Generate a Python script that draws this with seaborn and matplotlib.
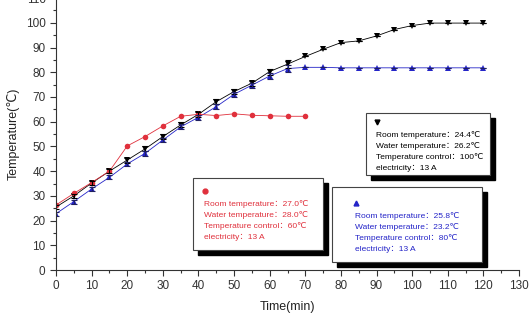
import pandas as pd
import seaborn as sns
import matplotlib.pyplot as plt
from matplotlib.patches import Rectangle
from matplotlib.ticker import MultipleLocator

# Heating curves
time_black = [0, 5, 10, 15, 20, 25, 30, 35, 40, 45, 50, 55, 60, 65, 70, 75, 80,
              85, 90, 95, 100, 105, 110, 115, 120]
temp_black = [25.5, 30.0, 35.2, 40.0, 44.5, 49.0, 54.0, 58.7, 63.0, 68.1, 72.2,
              75.6, 80.3, 83.3, 86.4, 89.3, 92.0, 92.7, 94.7, 97.3, 98.9, 99.9,
              99.9, 99.9, 99.9]
err_black = [0.8, 0.8, 0.8, 0.8, 1.0, 1.0, 1.0, 1.0, 1.0, 1.0, 1.0, 1.0, 1.2, 1.5,
             0, 0, 0, 0, 0, 0, 0, 0, 0, 0, 0]

time_blue = [0, 5, 10, 15, 20, 25, 30, 35, 40, 45, 50, 55, 60, 65, 70, 75, 80,
             85, 90, 95, 100, 105, 110, 115, 120]
temp_blue = [22.8, 27.7, 32.8, 37.5, 42.9, 47.2, 52.6, 57.9, 61.8, 66.1, 71.1,
             74.8, 78.5, 81.5, 82.0, 82.0, 81.8, 81.8, 81.8, 81.8, 81.8, 81.8,
             81.8, 81.8, 81.8]
err_blue = [0.8, 0.8, 0.8, 0.8, 1.0, 1.0, 1.0, 1.0, 1.0, 1.0, 1.0, 1.0, 1.2, 1.5,
            0, 0, 0, 0, 0, 0, 0, 0, 0, 0, 0]

time_red = [0, 5, 10, 15, 20, 25, 30, 35, 40, 45, 50, 55, 60, 65, 70]
temp_red = [26.3, 31.0, 35.4, 40.0, 50.2, 54.0, 58.3, 62.2, 63.0, 62.5, 63.2,
            62.6, 62.4, 62.2, 62.2]

legend_black = ["Room temperature：24.4℃", "Water temperature：26.2℃",
                "Temperature control：100℃", "electricity：13 A"]
legend_red = ["Room temperature：27.0℃", "Water temperature：28.0℃",
              "Temperature control：60℃", "electricity：13 A"]
legend_blue = ["Room temperature：25.8℃", "Water temperature：23.2℃",
               "Temperature control：80℃", "electricity：13 A"]

RED = "#e0303c"
BLUE = "#2424c8"
BLACK = "#000000"

df = pd.concat([
    pd.DataFrame({"Time": time_black, "Temp": temp_black, "Run": "100"}),
    pd.DataFrame({"Time": time_blue, "Temp": temp_blue, "Run": "80"}),
    pd.DataFrame({"Time": time_red, "Temp": temp_red, "Run": "60"}),
])

sns.set_style("ticks")
plt.rcParams["font.family"] = ["Liberation Sans", "DejaVu Sans", "Noto Sans CJK SC"]

fig = plt.figure(figsize=(5.32, 3.14), dpi=100)
ax = fig.add_axes([0.1053, 0.140, 0.8703, 0.866])

sns.lineplot(data=df, x="Time", y="Temp", hue="Run", style="Run",
             palette={"100": BLACK, "80": BLUE, "60": RED},
             markers={"100": "v", "80": "^", "60": "o"}, dashes=False,
             linewidth=0.6, markersize=4, markeredgewidth=0,
             legend=False, ax=ax)

ax.errorbar(time_black, temp_black, yerr=err_black, fmt="none", ecolor=BLACK,
            elinewidth=0.8, capsize=2, capthick=0.8)
ax.errorbar(time_blue, temp_blue, yerr=err_blue, fmt="none", ecolor="#202060",
            elinewidth=0.8, capsize=2, capthick=0.8)

ax.set_xlim(0, 130)
ax.set_ylim(0, 110)
ax.xaxis.set_major_locator(MultipleLocator(10))
ax.xaxis.set_minor_locator(MultipleLocator(5))
ax.yaxis.set_major_locator(MultipleLocator(10))
ax.yaxis.set_minor_locator(MultipleLocator(5))
ax.tick_params(which="major", length=4, width=0.8, labelsize=8.5,
               labelcolor="#333333", color="#333333")
ax.tick_params(which="minor", length=2.5, width=0.8, color="#333333")
for s in ["top", "right"]:
    ax.spines[s].set_visible(False)
for s in ["left", "bottom"]:
    ax.spines[s].set_linewidth(0.8)
    ax.spines[s].set_color("#333333")

ax.set_xlabel("Time(min)", fontsize=9, color="#222222", labelpad=6)
ax.set_ylabel("Temperature(℃)", fontsize=9, color="#222222", labelpad=4)


def px(x, y):
    return x / 532, 1 - y / 314


def info_box(x0, y0, x1, y1, marker, color, tx, ty, lines):
    w, h = (x1 - x0) / 532, (y1 - y0) / 314
    sx, sy = px(x0 + 5, y1 + 5)
    fig.patches.append(Rectangle((sx, sy), w, h, transform=fig.transFigure,
                                 facecolor="black", edgecolor="black", zorder=5))
    bx, by = px(x0, y1)
    fig.patches.append(Rectangle((bx, by), w, h, transform=fig.transFigure,
                                 facecolor="white", edgecolor="#444444",
                                 linewidth=0.8, zorder=6))
    mx, my = px(tx + 1, ty)
    fig.lines.append(plt.Line2D([mx], [my], marker=marker, color=color,
                                markersize=3.5, transform=fig.transFigure,
                                zorder=7))
    for i, line in enumerate(lines):
        lx, ly = px(tx, ty + 13 + i * 11.2)
        fig.text(lx, ly, line, color=color, fontsize=6, va="center",
                 ha="left", zorder=7)


info_box(366, 113, 490, 175, "v", BLACK, 376, 122, legend_black)
info_box(193, 178, 323, 250, "o", RED, 204, 191, legend_red)
info_box(332, 187, 482, 262, "^", BLUE, 355, 203, legend_blue)

fig.savefig("out.png", dpi=100)
